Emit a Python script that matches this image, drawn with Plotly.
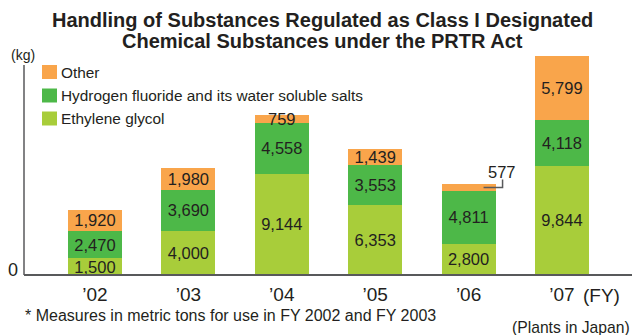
import plotly.graph_objects as go

# ---- data ----
years = ["\u201902", "\u201903", "\u201904", "\u201905", "\u201906", "\u201907"]
ethylene_glycol = [1500, 4000, 9144, 6353, 2800, 9844]
hydrogen_fluoride = [2470, 3690, 4558, 3553, 4811, 4118]
other = [1920, 1980, 759, 1439, 577, 5799]
series_names = ["Ethylene glycol", "Hydrogen fluoride and its water soluble salts", "Other"]
series_colors = ["#A8CD3A", "#4DB848", "#F9A54B"]
outside_label = (4, 2)  # ('06, Other) is labelled outside with a leader line

# ---- geometry (pixels) ----
WIDTH, HEIGHT = 632, 335
L, R, T, B = 24, 632, 50, 275
PW, PH = R - L, B - T
def px_x(px):
    return (px - L) / PW
def px_y(py):
    return (B - py) / PH

TXT = "#231F20"
FONT = "Liberation Sans, Arial, Helvetica, sans-serif"

fig = go.Figure()
all_series = [ethylene_glycol, hydrogen_fluoride, other]
for si, (vals, name, col) in enumerate(zip(all_series, series_names, series_colors)):
    labels = []
    for i, v in enumerate(vals):
        labels.append("" if (i, si) == outside_label else f"{v:,}")
    fig.add_trace(go.Bar(
        x=years, y=vals, name=name, marker=dict(color=col, line=dict(width=0)),
        text=labels, textposition="inside", insidetextanchor="middle", textangle=0,
        textfont=dict(size=16.5, color=TXT, family=FONT), showlegend=False,
        hoverinfo="skip"))

fig.update_layout(
    width=WIDTH, height=HEIGHT, barmode="stack", bargap=0.422,
    margin=dict(l=L, r=WIDTH - R, t=T, b=HEIGHT - B, pad=0),
    paper_bgcolor="white", plot_bgcolor="white",
    font=dict(family=FONT, color=TXT),
    uniformtext=dict(minsize=16.5, mode="show"),
    xaxis=dict(type="category", categoryarray=years, range=[-0.76, 5.75],
               showline=False, showgrid=False, zeroline=False, ticks="",
               tickfont=dict(size=19, color=TXT, family=FONT), ticklabelstandoff=6),
    yaxis=dict(range=[0, 20300], visible=False, fixedrange=True),
)

shapes = []
# axes
shapes.append(dict(type="line", xref="paper", yref="paper", x0=0, x1=0,
                   y0=0, y1=px_y(65), line=dict(color="#58595B", width=1.5)))
shapes.append(dict(type="line", xref="paper", yref="paper", x0=0, x1=px_x(632),
                   y0=0, y1=0, line=dict(color="#58595B", width=2)))
# legend
legend_rows = [(2, 72), (1, 95.5), (0, 118.5)]
annotations = []
for si, cy in legend_rows:
    shapes.append(dict(type="rect", xref="paper", yref="paper",
                       x0=px_x(42), x1=px_x(57), y0=px_y(cy + 7), y1=px_y(cy - 7),
                       fillcolor=series_colors[si], line=dict(width=0)))
    annotations.append(dict(text=series_names[si], xref="paper", yref="paper",
                            x=px_x(59), y=px_y(cy), xanchor="left", yanchor="middle",
                            showarrow=False, font=dict(size=15.4, color=TXT)))

# leader line for the outside label
oi, osi = outside_label
base = sum(all_series[k][oi] for k in range(osi))
mid = base + all_series[osi][oi] / 2
top = base + all_series[osi][oi]
shapes.append(dict(type="path", xref="x", yref="y", xsizemode="pixel", ysizemode="pixel",
                   xanchor=oi, yanchor=mid, path="M 15,0 L 34,0 L 34,8",
                   line=dict(color="#58595B", width=1.5)))
annotations.append(dict(text=f"{all_series[osi][oi]:,}", x=years[oi], y=top, xref="x", yref="y",
                        xshift=33, yshift=12, xanchor="center", yanchor="middle",
                        showarrow=False, font=dict(size=16.5, color=TXT)))

# title
annotations.append(dict(text="<b>Handling of Substances Regulated as Class I Designated</b>",
                        xref="paper", yref="paper", x=px_x(322), y=px_y(20),
                        xanchor="center", yanchor="middle", showarrow=False,
                        font=dict(size=20, color=TXT)))
annotations.append(dict(text="<b>Chemical Substances under the PRTR Act</b>",
                        xref="paper", yref="paper", x=px_x(322), y=px_y(41),
                        xanchor="center", yanchor="middle", showarrow=False,
                        font=dict(size=20, color=TXT)))
# units, zero, FY, notes
annotations.append(dict(text="(kg)", xref="paper", yref="paper", x=px_x(23), y=px_y(55),
                        xanchor="center", yanchor="middle", showarrow=False,
                        font=dict(size=14, color=TXT)))
annotations.append(dict(text="0", xref="paper", yref="paper", x=px_x(13), y=px_y(270),
                        xanchor="center", yanchor="middle", showarrow=False,
                        font=dict(size=18, color=TXT)))
annotations.append(dict(text="(FY)", xref="paper", yref="paper", x=px_x(581), y=px_y(295),
                        xanchor="left", yanchor="middle", showarrow=False,
                        font=dict(size=19, color=TXT)))
annotations.append(dict(text="* Measures in metric tons for use in FY 2002 and FY 2003",
                        xref="paper", yref="paper", x=px_x(23), y=px_y(315.5),
                        xanchor="left", yanchor="middle", showarrow=False,
                        font=dict(size=16, color=TXT)))
annotations.append(dict(text="(Plants in Japan)", xref="paper", yref="paper", x=px_x(632), y=px_y(327),
                        xanchor="right", yanchor="middle", showarrow=False,
                        font=dict(size=15.7, color=TXT)))

fig.update_layout(shapes=shapes, annotations=annotations)
fig.write_html("out.html", config={"displayModeBar": False})
